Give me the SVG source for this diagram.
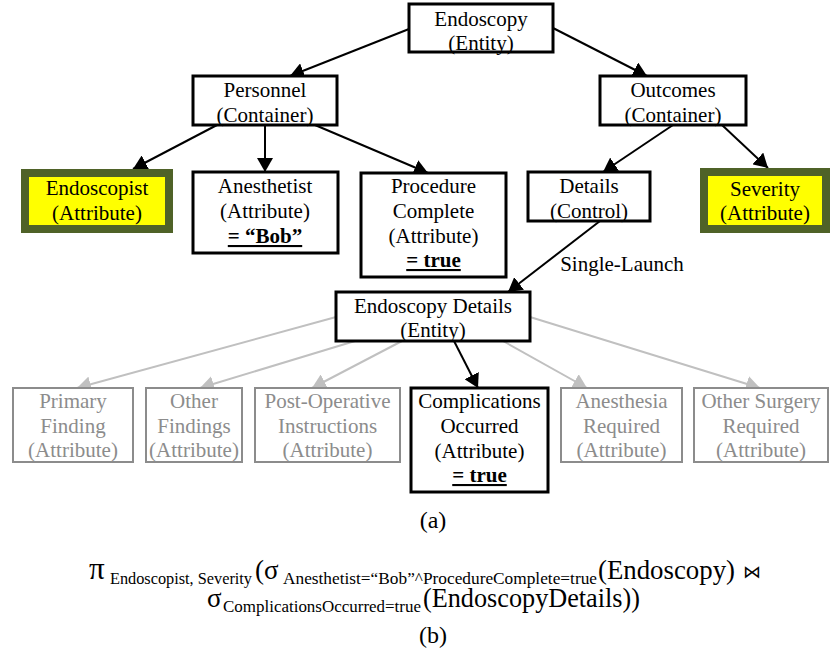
<svg xmlns="http://www.w3.org/2000/svg" width="830" height="657" viewBox="0 0 830 657">
<style>
text{font-family:"Liberation Serif","Times New Roman",serif;font-size:21px;text-anchor:middle;fill:#000}
.box{fill:#fff;stroke:#000;stroke-width:3}
.gbox{fill:#fff;stroke:#8c8c8c;stroke-width:2}
.hbox{fill:#ffff00;stroke:#4f6228;stroke-width:8}
text.g{fill:#8c8c8c}
text.b{font-weight:bold;text-decoration:underline}
.e{stroke:#000;stroke-width:2;fill:none}
.ge{stroke:#c0c0c0;stroke-width:2;fill:none}
text.cap{font-size:24px}
text.m{font-size:27px;text-anchor:start}
text.p{font-size:31px;text-anchor:start}
text.s{font-size:17px;text-anchor:start}
text.j{font-size:18px;text-anchor:start;font-family:"DejaVu Sans",sans-serif}
</style>
<defs>
<marker id="ah" viewBox="0 0 14 16" refX="14" refY="8" markerWidth="14" markerHeight="16" markerUnits="userSpaceOnUse" orient="auto"><path d="M0,0 L14,8 L0,16 z" fill="#000"/></marker>
<marker id="gah" viewBox="0 0 14 16" refX="14" refY="8" markerWidth="14" markerHeight="16" markerUnits="userSpaceOnUse" orient="auto"><path d="M0,0 L14,8 L0,16 z" fill="#c0c0c0"/></marker>
</defs>
<rect width="830" height="657" fill="#fff"/>
<g id="connectors">
<line class="e" x1="409" y1="29" x2="290" y2="76" marker-end="url(#ah)"/>
<line class="e" x1="553" y1="28" x2="647" y2="76" marker-end="url(#ah)"/>
<line class="e" x1="217" y1="125" x2="133" y2="169" marker-end="url(#ah)"/>
<line class="e" x1="265" y1="125" x2="265" y2="172" marker-end="url(#ah)"/>
<line class="e" x1="315" y1="125" x2="428" y2="173" marker-end="url(#ah)"/>
<line class="e" x1="673" y1="125" x2="603" y2="172" marker-end="url(#ah)"/>
<line class="e" x1="722" y1="125" x2="768" y2="168" marker-end="url(#ah)"/>
<line class="e" x1="600" y1="221" x2="508" y2="292" marker-end="url(#ah)"/>
<line class="e" x1="454" y1="341" x2="478" y2="388" marker-end="url(#ah)"/>
<line class="ge" x1="336" y1="317" x2="77" y2="388" marker-end="url(#gah)"/>
<line class="ge" x1="355" y1="341" x2="200" y2="388" marker-end="url(#gah)"/>
<line class="ge" x1="402" y1="341" x2="312" y2="388" marker-end="url(#gah)"/>
<line class="ge" x1="503" y1="341" x2="587" y2="388" marker-end="url(#gah)"/>
<line class="ge" x1="530" y1="317" x2="760" y2="388" marker-end="url(#gah)"/>
<text x="622" y="271">Single-Launch</text>
</g>
<g id="endoscopy">
<rect class="box" x="409" y="4" width="144" height="48"/>
<text x="481" y="26">Endoscopy</text>
<text x="481" y="50">(Entity)</text>
</g>
<g id="personnel">
<rect class="box" x="193" y="76" width="144" height="49"/>
<text x="265" y="97">Personnel</text>
<text x="265" y="122">(Container)</text>
</g>
<g id="outcomes">
<rect class="box" x="600" y="76" width="146" height="49"/>
<text x="673" y="97">Outcomes</text>
<text x="673" y="122">(Container)</text>
</g>
<g id="endoscopist">
<rect class="hbox" x="25" y="173" width="144" height="56"/>
<text x="97" y="195">Endoscopist</text>
<text x="97" y="220">(Attribute)</text>
</g>
<g id="anesthetist">
<rect class="box" x="193" y="172" width="145" height="81"/>
<text x="265" y="193">Anesthetist</text>
<text x="265" y="218">(Attribute)</text>
<text x="265" y="243" class="b">= “Bob”</text>
</g>
<g id="procedure-complete">
<rect class="box" x="361" y="173" width="145" height="104"/>
<text x="433.5" y="193">Procedure</text>
<text x="433.5" y="218">Complete</text>
<text x="433.5" y="243">(Attribute)</text>
<text x="433.5" y="267" class="b">= true</text>
</g>
<g id="details">
<rect class="box" x="528" y="172" width="122" height="49"/>
<text x="589" y="193">Details</text>
<text x="589" y="218">(Control)</text>
</g>
<g id="severity">
<rect class="hbox" x="704" y="172" width="122" height="57"/>
<text x="765" y="196">Severity</text>
<text x="765" y="220">(Attribute)</text>
</g>
<g id="endoscopy-details">
<rect class="box" x="336" y="292" width="194" height="49"/>
<text x="433" y="313">Endoscopy Details</text>
<text x="433" y="337">(Entity)</text>
</g>
<g id="primary-finding">
<rect class="gbox" x="13" y="388" width="120" height="74"/>
<text class="g" x="73" y="408">Primary</text>
<text class="g" x="73" y="433">Finding</text>
<text class="g" x="73" y="457">(Attribute)</text>
</g>
<g id="other-findings">
<rect class="gbox" x="146" y="388" width="96" height="74"/>
<text class="g" x="194" y="408">Other</text>
<text class="g" x="194" y="433">Findings</text>
<text class="g" x="194" y="457">(Attribute)</text>
</g>
<g id="post-operative">
<rect class="gbox" x="255" y="388" width="145" height="74"/>
<text class="g" x="327.5" y="408">Post-Operative</text>
<text class="g" x="327.5" y="433">Instructions</text>
<text class="g" x="327.5" y="457">(Attribute)</text>
</g>
<g id="complications">
<rect class="box" x="411" y="388" width="137" height="104"/>
<text x="479.5" y="408">Complications</text>
<text x="479.5" y="433">Occurred</text>
<text x="479.5" y="458">(Attribute)</text>
<text x="479.5" y="482" class="b">= true</text>
</g>
<g id="anesthesia">
<rect class="gbox" x="561" y="388" width="121" height="74"/>
<text class="g" x="621.5" y="408">Anesthesia</text>
<text class="g" x="621.5" y="433">Required</text>
<text class="g" x="621.5" y="457">(Attribute)</text>
</g>
<g id="other-surgery">
<rect class="gbox" x="694" y="388" width="134" height="74"/>
<text class="g" x="761" y="408">Other Surgery</text>
<text class="g" x="761" y="433">Required</text>
<text class="g" x="761" y="457">(Attribute)</text>
</g>
<text class="cap" x="433" y="528">(a)</text>
<g id="formula">
<text class="p" x="89" y="579">π</text>
<text class="s" x="110" y="584" textLength="142" lengthAdjust="spacingAndGlyphs">Endoscopist, Severity</text>
<text class="m" x="255" y="579">(σ</text>
<text class="s" x="283" y="584" textLength="314" lengthAdjust="spacingAndGlyphs">Anesthetist=“Bob”^ProcedureComplete=true</text>
<text class="m" x="598" y="579" textLength="137" lengthAdjust="spacingAndGlyphs">(Endoscopy)</text>
<text class="j" x="743" y="578">⋈</text>
<text class="m" x="207" y="607">σ</text>
<text class="s" x="223" y="612" textLength="198" lengthAdjust="spacingAndGlyphs">ComplicationsOccurred=true</text>
<text class="m" x="423" y="607" textLength="217" lengthAdjust="spacingAndGlyphs">(EndoscopyDetails))</text>
</g>
<text class="cap" x="433" y="643">(b)</text>
</svg>
